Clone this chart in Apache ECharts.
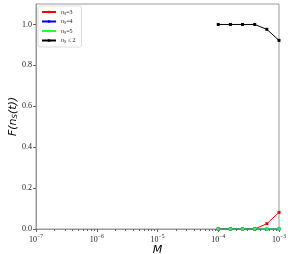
<!DOCTYPE html>
<html><head><meta charset="utf-8">
<script src="https://cdn.jsdelivr.net/npm/echarts@6/dist/echarts.min.js"></script>
<style>html,body{margin:0;padding:0;background:#fff}#c{width:306px;height:254px}</style>
</head><body><div id="c"></div>
<script>
// Data
const xValues = [1e-4, 1.585e-4, 2.512e-4, 3.981e-4, 6.310e-4, 1e-3];
const seriesNames = ['nS=3', 'nS=4', 'nS=5', 'nS<=2'];
const legendLabels = ['{i|n}{s|S}=3', '{i|n}{s|S}=4', '{i|n}{s|S}=5', '{i|n}{s|S} \u2264 2'];
const seriesColors = ['#ff0000', '#0000ff', '#22ff22', '#000000'];
const valsN3 = [0, 0, 0, 0, 0.026, 0.081];
const valsN4 = [0, 0, 0, 0, 0, 0];
const valsN5 = [0, 0, 0, 0, 0, 0];
const valsN2 = [1, 1, 1, 1, 0.976, 0.922];
const yTicks = [0, 0.2, 0.4, 0.6, 0.8, 1.0];
const xMajor = [1e-7, 1e-6, 1e-5, 1e-4, 1e-3];

const allVals = [valsN3, valsN4, valsN5, valsN2];
const minorTicks = [];
for (let e = -7; e < -3; e++) for (let m = 2; m <= 9; m++) minorTicks.push(m * Math.pow(10, e));

const serif = '"Liberation Serif", "DejaVu Serif", serif';
const chart = echarts.init(document.getElementById('c'), null, {renderer: 'canvas'});
const legendMap = {};
seriesNames.forEach((n, i) => legendMap[n] = legendLabels[i]);

chart.setOption({
  animation: false,
  grid: {left: 36, right: 27, top: 4, bottom: 25, show: true, borderColor: '#999', borderWidth: 1,
    outerBoundsMode: 'none', containLabel: false},
  legend: {
    data: seriesNames, orient: 'vertical', left: 38, top: 6,
    itemWidth: 14, itemHeight: 3, itemGap: 3,
    padding: [3, 6, 3, 3], borderColor: '#ddd', borderWidth: 1, borderRadius: 2,
    formatter: n => legendMap[n],
    textStyle: {fontSize: 6, color: '#222', fontFamily: serif,
      rich: {i: {fontSize: 6, fontStyle: 'italic', fontFamily: serif}, s: {fontSize: 4, fontFamily: serif, padding: [3, 0, 0, 0]}}}
  },
  xAxis: [{
    type: 'log', logBase: 10, min: 1e-7, max: 1e-3, position: 'bottom',
    name: 'M', nameLocation: 'middle', nameGap: 16, nameMoveOverlap: false,
    nameTextStyle: {fontSize: 11, fontStyle: 'italic', color: '#000', fontFamily: '"DejaVu Sans"'},
    axisLine: {show: true, lineStyle: {color: '#999', width: 1}},
    axisTick: {show: true, length: 3, lineStyle: {color: '#666'}, customValues: xMajor},
    splitLine: {show: false},
    axisLabel: {customValues: xMajor, margin: 5, fontFamily: serif, fontSize: 8, color: '#222',
      formatter: v => '{b|10}{p|\u2212' + Math.round(-Math.log10(v)) + '}',
      rich: {b: {fontSize: 8, fontFamily: serif, color: '#222'}, p: {fontSize: 5.5, fontFamily: serif, color: '#222', verticalAlign: 'top', padding: [0, 0, 5, 0]}}}
  }, {
    type: 'log', logBase: 10, min: 1e-7, max: 1e-3, position: 'bottom',
    axisLine: {show: false}, splitLine: {show: false}, axisLabel: {show: false},
    axisTick: {show: true, length: 2, lineStyle: {color: '#666'}, customValues: minorTicks}
  }],
  yAxis: {
    type: 'value', min: 0, max: 1.1,
    name: '{f|F(}{i|n}{s|S}{f|(}{i|t}{f|))}', nameLocation: 'middle', nameGap: 17, nameRotate: 90, nameMoveOverlap: false,
    nameTextStyle: {fontSize: 11, color: '#000', rich: {
      f: {fontSize: 11, fontStyle: 'italic', fontFamily: '"DejaVu Sans"'},
      i: {fontSize: 11, fontStyle: 'italic', fontFamily: '"DejaVu Sans"'},
      s: {fontSize: 7, fontStyle: 'italic', fontFamily: '"DejaVu Sans"', padding: [5, 0, 0, 0]}}},
    axisLine: {show: true, lineStyle: {color: '#999'}},
    axisTick: {show: true, length: 3, lineStyle: {color: '#666'}, customValues: yTicks},
    splitLine: {show: false},
    axisLabel: {customValues: yTicks, margin: 4, fontFamily: serif, fontSize: 8, color: '#222',
      formatter: v => v.toFixed(1)}
  },
  series: seriesNames.map((n, i) => ({
    name: n, type: 'line', xAxisIndex: 0,
    data: xValues.map((x, j) => [x, allVals[i][j]]),
    symbol: 'rect', symbolSize: 3, showSymbol: true,
    lineStyle: {color: seriesColors[i], width: 1},
    itemStyle: {color: seriesColors[i]},
    z: 2 + i
  }))
});
</script></body></html>
